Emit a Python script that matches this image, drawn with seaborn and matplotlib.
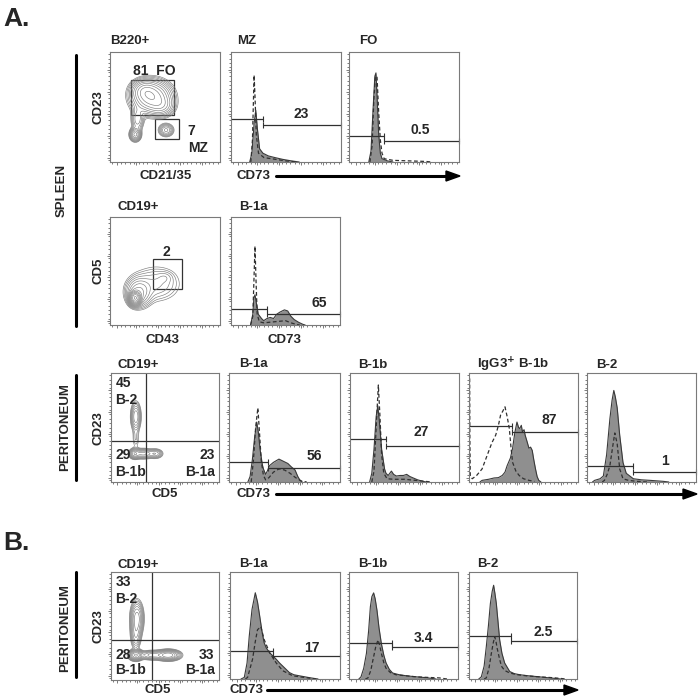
import numpy as np
import matplotlib
matplotlib.use("Agg")
import matplotlib.pyplot as plt
import seaborn as sns

sns.set_style("white")
plt.rcParams['font.family'] = ['Liberation Sans', 'DejaVu Sans']
plt.rcParams['font.weight'] = 'bold'

# ---- histogram curves (x, y), axes run 0..100 ----
mz_fill = [(17, 0), (19, 8), (21, 35), (22.5, 47), (24, 30), (26, 12), (29, 8), (34, 5.5), (40, 4), (47, 2.4), (55, 1), (62, 0)]
mz_dash = [(18, 0), (19.5, 20), (20.5, 60), (21, 79), (21.8, 60), (23, 25), (25, 8), (30, 4), (40, 2.5), (50, 1), (60, 0)]
fo_fill = [(18, 0), (20, 10), (22, 50), (23.5, 78), (24.5, 81), (25.5, 60), (27, 25), (28.5, 8), (30, 3), (35, 1), (40, 0)]
fo_dash = [(19, 0), (21, 15), (22.5, 55), (24, 78), (25.5, 77), (27, 45), (28.5, 20), (30, 8), (32, 3), (40, 1.5), (55, 1), (70, 0.5), (75, 0)]
b1a_spl_fill = [(18, 0), (20, 10), (21, 25), (22, 28), (23, 22), (25, 10), (28, 6), (30, 4), (33, 6), (36, 7), (39, 6),
                (42, 10), (45, 12), (49, 14), (52, 13), (55, 8), (58, 5), (62, 2.5), (66, 0.6), (68, 0)]
b1a_spl_dash = [(18, 0), (20, 8), (21, 40), (22, 73), (23, 40), (24, 10), (26, 3), (30, 2), (40, 3), (50, 4), (55, 2), (60, 0.5), (63, 0)]
b1a_per_fill = [(17, 0), (19, 5), (21, 20), (23, 40), (25, 55), (26.5, 45), (28, 30), (30, 16), (31, 12), (33, 7), (34.5, 10),
                (36.5, 15), (40, 18), (45, 21), (49, 19), (53, 17), (56, 14), (59.5, 11), (62, 5), (64, 1.5), (66, 0)]
b1a_per_dash = [(20, 0), (22, 20), (24, 50), (26, 68), (27.5, 45), (29, 20), (31, 6), (33, 2), (36, 4), (40, 9), (45, 12),
                (50, 11), (55, 8), (60, 4), (65, 1), (70, 0)]
b1b_per_fill = [(18, 0), (20, 8), (22, 30), (24, 60), (25.5, 70), (27, 55), (29, 30), (31.7, 12), (33, 8), (35, 6), (38, 10),
                (40, 7), (42.5, 5.5), (46, 6), (49, 6), (52, 7), (55, 5), (58, 3.7), (62, 2), (67, 0.6), (70, 0)]
b1b_per_dash = [(20, 0), (22, 10), (24, 50), (26, 89), (27.5, 60), (29, 25), (31, 8), (34, 3), (40, 2.5), (50, 2.5), (60, 1.5), (70, 0.5), (75, 0)]
igg3_fill = [(10, 0), (12, 1.5), (18, 2.5), (23, 3.7), (27, 4), (30.5, 6), (33, 9), (35, 15), (38, 22), (40, 31), (42, 45),
             (44, 55), (45.5, 50), (46.5, 49), (48, 52), (49, 46), (50.5, 48), (51.5, 43), (53, 38), (55, 31), (56.5, 32),
             (58, 29), (59.5, 20), (61, 12), (62.5, 5), (64, 1.5), (66, 0)]
igg3_dash = [(0.6, 95), (0.8, 40), (1.2, 5), (3, 3), (7, 6), (12, 12), (15, 20), (18, 28), (21, 36), (24.5, 43), (27, 52),
             (29, 61.5), (31, 65), (33, 69), (35, 60), (37, 49), (38.5, 32), (40, 18), (43, 10), (46, 6), (50, 3), (55, 1.5), (60, 0.5)]
b2_per_fill = [(5, 0), (7, 1.5), (12, 3), (15, 5.5), (18, 25), (21, 58), (23, 75), (24.6, 84), (26, 78), (27.7, 68), (30, 43),
               (33, 18), (36, 8), (42.5, 3), (50, 2), (58, 1.5), (70, 0.6), (75, 0)]
b2_per_dash = [(14, 0), (16, 1.5), (18.5, 7), (21, 15), (23.5, 32), (25.5, 45), (27.7, 35), (30, 12), (33, 3), (38, 1.5), (45.5, 0.6), (55, 0)]
bb1a_fill = [(10, 0), (13, 1.5), (15.5, 15), (17.5, 40), (20, 65), (23, 80.6), (25, 72), (26.6, 61.5), (29, 45), (31, 34),
             (33, 29), (36, 24.6), (42, 18.5), (45, 15), (48, 12), (51, 9), (54, 6), (58, 4), (63, 3), (72.5, 1.2), (80, 0)]
bb1a_dash = [(14, 0), (16, 1.5), (20.5, 18.5), (23, 35), (25, 46), (28, 49), (31, 37), (36, 24.6), (42, 15), (48, 7.7),
             (57, 3), (69.4, 1.2), (78, 0)]
bb1b_fill = [(9, 0), (11, 2), (13.5, 10), (16, 24), (18, 45), (19.6, 67.5), (21, 77), (22.6, 80.5), (24, 75), (25.7, 64),
             (27.5, 48), (29.7, 33), (32, 22), (34, 15), (37, 9), (40, 5.6), (46, 4), (52.6, 3), (60, 2.2), (71, 1.2), (80, 0)]
bb1b_dash = [(15, 0), (17.4, 1), (20, 8), (22, 18), (24.5, 30), (26.6, 36.5), (28, 32), (29.7, 24), (32, 15), (34, 10),
             (38, 6), (43, 4), (52, 3), (62, 2), (72, 1.5), (83, 1), (90, 0)]
bb2_fill = [(9, 0), (11.4, 2), (14, 12), (16, 30), (18, 50), (19.8, 70.6), (21.5, 82), (22.8, 87.6), (24, 80), (25.3, 70.6),
            (27, 52), (28.4, 36.5), (30.5, 24), (33, 15), (37.7, 7), (42, 5), (47, 4), (55, 3), (65.4, 2), (75, 1), (85, 0)]
bb2_dash = [(14, 0), (16, 1), (18.5, 10), (20.7, 24), (22.5, 34), (23.8, 39.6), (25, 35), (26, 29), (28, 20), (30, 12),
            (33, 8), (37.7, 5.6), (45, 4), (53, 3), (65, 2), (78, 1.2), (90, 0)]

# gates: (split x, left gate y, right gate y, percent label, label x, label y)
mz_gate = (29, 39, 34, "23", 64, 44)
fo_gate = (31.5, 23.6, 18.8, "0.5", 64.5, 29)
b1a_spl_gate = (32.7, 14.8, 9.8, "65", 81, 20)
b1a_per_gate = (35, 18, 13, "56", 77, 24)
b1b_per_gate = (33, 39, 33, "27", 65.5, 46)
igg3_gate = (39, 51, 46, "87", 74, 57)
b2_per_gate = (42.5, 14.5, 9, "1", 72, 19)
bb1a_gate = (39, 26, 21.5, "17", 74, 29)
bb1b_gate = (39.4, 34, 30, "3.4", 68, 38)
bb2_gate = (39, 40.5, 35.6, "2.5", 69, 44)

# ---- contour populations: (centre x, centre y, spread x, spread y, weight) ----
b220_pops = [(38, 59, 9, 7.5, 1.0), (31, 65, 6, 5, 0.4), (47, 51, 6, 5, 0.3), (25, 39, 3, 6, 0.25),
             (23, 25, 2.5, 3, 0.6), (51, 29, 3.5, 3, 0.3)]
cd19_spl_pops = [(23, 25, 2.5, 3, 1.0), (26, 30, 6, 7, 0.12), (42, 38, 12, 9, 0.04), (50, 44, 4, 3, 0.015)]
cd19_per_pops = [(23, 60, 2.3, 6.5, 0.6), (22, 26, 2.5, 2.3, 0.8), (30, 26, 4.5, 2.2, 0.7), (41, 26, 3.5, 2.2, 0.4),
                 (23, 40, 2, 6, 0.1)]
cd19_perb_pops = [(24, 57, 3, 8, 0.6), (23, 42, 2.5, 7, 0.3), (23, 23, 3.2, 2.4, 1.0), (53, 23, 5.5, 2.4, 0.9),
                  (38, 23, 6, 2.2, 0.4)]

W, H = 699, 697
fig = plt.figure(figsize=(W / 100, H / 100), dpi=100)
EDGE = '#7a7a7a'


def px_axes(x0, y0, x1, y1):
    ax = fig.add_axes([x0 / W, 1 - y1 / H, (x1 - x0) / W, (y1 - y0) / H])
    ax.set_xlim(0, 100)
    ax.set_ylim(0, 100)
    for s in ax.spines.values():
        s.set_color(EDGE)
        s.set_linewidth(0.8)
    ax.set_xticks([6, 24, 44, 64, 84])
    ax.set_yticks([4, 24, 44, 64, 84])
    ax.set_xticks(np.arange(2, 100, 4), minor=True)
    ax.set_yticks(np.arange(2, 100, 4), minor=True)
    ax.tick_params(which='both', direction='out', length=2.5, width=0.6, color='#666666',
                   labelbottom=False, labelleft=False, bottom=True, left=True)
    ax.tick_params(which='minor', length=1.2)
    return ax


def ftext(x, y, s, size=8, ha='left', va='center', **kw):
    fig.text(x / W, 1 - y / H, s, fontsize=size, ha=ha, va=va, fontweight='bold', **kw)


def hist_panel(box, fill, dash, gate):
    ax = px_axes(*box)
    fx, fy = zip(*fill)
    dx, dy = zip(*dash)
    ax.fill_between(fx, fy, 0, color='#8f8f8f', lw=0)
    sns.lineplot(x=list(fx), y=list(fy), ax=ax, color='#3a3a3a', lw=0.8, sort=False, estimator=None)
    sns.lineplot(x=list(dx), y=list(dy), ax=ax, color='#303030', lw=0.9, sort=False, estimator=None,
                 linestyle=(0, (3, 2)))
    split, yl, yr, lab, lx, ly = gate
    ax.plot([0, split], [yl, yl], color='#303030', lw=0.9, marker='|', markevery=[1], ms=4, mew=0.8, clip_on=False)
    ax.plot([split, 100], [yr, yr], color='#303030', lw=0.9, marker='|', ms=4, mew=0.8, clip_on=False)
    ax.text(lx, ly, lab, fontsize=10, ha='center', va='center', fontweight='bold')
    ax.set_xlabel('')
    ax.set_ylabel('')
    return ax


def contour_panel(box, pops, lo=0.03, n=10):
    ax = px_axes(*box)
    g = np.linspace(0, 100, 300)
    gx, gy = np.meshgrid(g, g)
    dens = np.zeros_like(gx)
    for cx, cy, sx, sy, w in pops:
        dens += w * np.exp(-0.5 * (((gx - cx) / sx) ** 2 + ((gy - cy) / sy) ** 2))
    levels = dens.max() * np.geomspace(lo, 0.92, n)
    ax.contour(gx, gy, dens, levels=levels, colors='#7c7c7c', linewidths=0.45)
    return ax


# ---------------- A: spleen ----------------
ax = contour_panel((110, 52, 220, 162), b220_pops, lo=0.03, n=11)
ax.add_patch(plt.Rectangle((19, 43), 39.5, 32, fill=False, ec='#333333', lw=0.9))
ax.add_patch(plt.Rectangle((41, 20.6), 22, 18.4, fill=False, ec='#333333', lw=0.9))
ax.text(21, 83, "81  FO", fontsize=10, ha='left', va='center')
ax.text(70.6, 28, "7", fontsize=10, ha='left', va='center')
ax.text(70.6, 13, "MZ", fontsize=10, ha='left', va='center')

hist_panel((231, 52, 341, 162), mz_fill, mz_dash, mz_gate)
hist_panel((349, 52, 459, 162), fo_fill, fo_dash, fo_gate)

ax = contour_panel((110, 217, 220, 325), cd19_spl_pops, lo=0.008, n=14)
ax.add_patch(plt.Rectangle((39, 33), 26, 28, fill=False, ec='#333333', lw=0.9))
ax.text(51.5, 68, "2", fontsize=10, ha='center', va='center')

hist_panel((231, 217, 340, 325), b1a_spl_fill, b1a_spl_dash, b1a_spl_gate)

# ---------------- A: peritoneum ----------------
ax = contour_panel((111, 373, 219, 482), cd19_per_pops, lo=0.05, n=9)
ax.axvline(32.4, color='#333333', lw=0.9)
ax.axhline(38, color='#333333', lw=0.9)
for s, x, y, ha in [("45", 4, 90.8, 'left'), ("B-2", 4, 75.4, 'left'), ("29", 4, 24.6, 'left'),
                    ("B-1b", 4, 9.2, 'left'), ("23", 96, 24.6, 'right'), ("B-1a", 96, 9.2, 'right')]:
    ax.text(x, y, s, fontsize=10, ha=ha, va='center')

hist_panel((229, 373, 340, 482), b1a_per_fill, b1a_per_dash, b1a_per_gate)
hist_panel((350, 373, 459, 482), b1b_per_fill, b1b_per_dash, b1b_per_gate)
hist_panel((469, 373, 578, 482), igg3_fill, igg3_dash, igg3_gate)
hist_panel((587, 373, 696, 482), b2_per_fill, b2_per_dash, b2_per_gate)

# ---------------- B: peritoneum ----------------
ax = contour_panel((111, 572, 219, 680), cd19_perb_pops, lo=0.04, n=10)
ax.axvline(38.3, color='#333333', lw=0.9)
ax.axhline(37, color='#333333', lw=0.9)
for s, x, y, ha in [("33", 4, 90.8, 'left'), ("B-2", 4, 75.4, 'left'), ("28", 4, 23, 'left'),
                    ("B-1b", 4, 9.2, 'left'), ("33", 96, 23, 'right'), ("B-1a", 96, 9.2, 'right')]:
    ax.text(x, y, s, fontsize=10, ha=ha, va='center')

hist_panel((230, 572, 340, 679), bb1a_fill, bb1a_dash, bb1a_gate)
hist_panel((349, 572, 458, 679), bb1b_fill, bb1b_dash, bb1b_gate)
hist_panel((469, 572, 577, 679), bb2_fill, bb2_dash, bb2_gate)

# ---------------- titles ----------------
ftext(3, 19, "A.", size=19)
ftext(3, 543, "B.", size=19)
for s, x, y in [("B220+", 110, 41), ("MZ", 237, 41), ("FO", 359, 41),
                ("CD19+", 117, 207), ("B-1a", 239, 207),
                ("CD19+", 117, 365), ("B-1a", 239, 364), ("B-1b", 358, 365),
                ("IgG3$^{\\mathbf{+}}$ B-1b", 477, 365), ("B-2", 596, 365),
                ("CD19+", 117, 565), ("B-1a", 239, 564), ("B-1b", 358, 564), ("B-2", 477, 564)]:
    ftext(x, y, s, size=9.5)

# axis names
for s, x, y in [("CD21/35", 166, 176), ("CD73", 253, 176), ("CD43", 163, 340), ("CD73", 285, 340),
                ("CD5", 165, 494), ("CD73", 253, 494), ("CD5", 158, 690), ("CD73", 247, 690)]:
    ftext(x, y, s, size=9.5, ha='center')
for s, y in [("CD23", 107), ("CD5", 271), ("CD23", 428), ("CD23", 626)]:
    ftext(98, y, s, size=9.5, ha='center', rotation=90)

# tissue labels with bars
ftext(62, 190, "SPLEEN", size=9.5, ha='center', rotation=90)
ftext(65, 427, "PERITONEUM", size=9.5, ha='center', rotation=90)
ftext(65, 628, "PERITONEUM", size=9.5, ha='center', rotation=90)
for y0, y1 in [(55, 326), (375, 480), (572, 677)]:
    fig.add_artist(plt.Line2D([76 / W, 76 / W], [1 - y0 / H, 1 - y1 / H], color='black', lw=2.2))

# CD73 arrows
for x0, x1, y in [(276, 460, 176), (276, 697, 494), (267, 578, 690)]:
    fig.add_artist(plt.Line2D([x0 / W, (x1 - 12) / W], [1 - y / H, 1 - y / H], color='black', lw=2.2))
    fig.patches.append(plt.Polygon([[(x1 - 14) / W, 1 - (y - 5) / H], [x1 / W, 1 - y / H], [(x1 - 14) / W, 1 - (y + 5) / H]],
                                   closed=True, color='black', transform=fig.transFigure, figure=fig))

fig.savefig("out.png", dpi=100)
